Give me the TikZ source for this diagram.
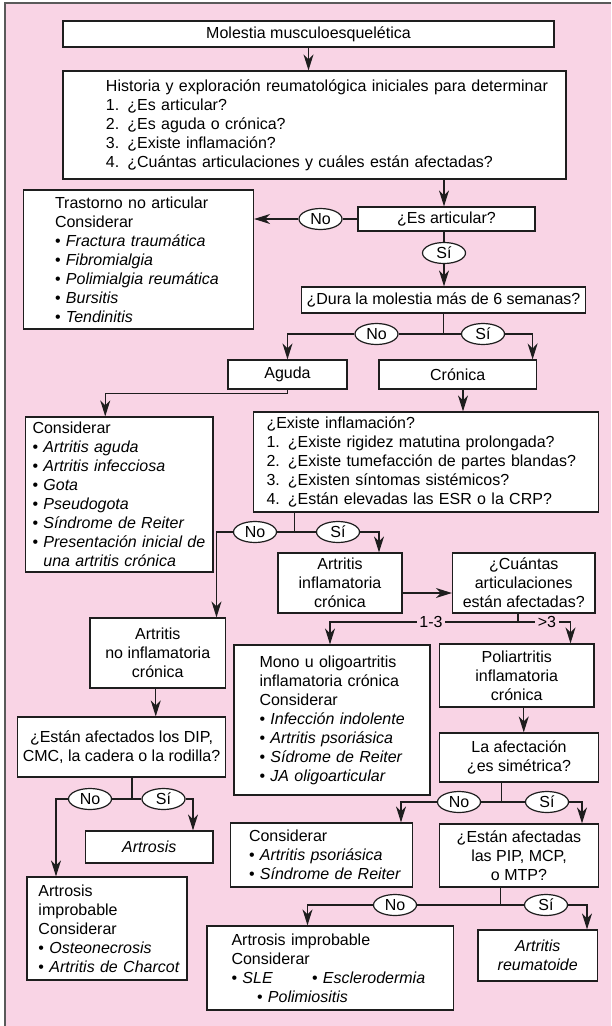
\documentclass[tikz,border=0pt]{standalone}
\usepackage{fontspec}
\setmainfont{Liberation Sans}
\usetikzlibrary{arrows.meta,shapes.geometric}
\definecolor{pinkbg}{RGB}{249,212,229}
\definecolor{ink}{RGB}{30,30,30}
\definecolor{framec}{RGB}{90,90,90}

\begin{document}
\begin{tikzpicture}[x=1pt,y=-1pt,
  font=\fontsize{16}{19}\selectfont,
  box/.style={draw=ink, fill=white, line width=1.2pt, inner sep=0pt},
  cbox/.style 2 args={box, minimum width=#1, minimum height=#2, align=center},
  lbox/.style n args={3}{box, text width=#1, minimum height=#2, align=left,
    execute at begin node={\leftskip=#3\relax}},
  ell/.style={ellipse, draw=ink, fill=white, line width=1.2pt,
    minimum width=43pt, minimum height=21pt, inner sep=0pt},
  link/.style={draw=ink, line width=1.2pt},
  arr/.style={link, -{Stealth[length=16pt,width=10pt,inset=5pt]}},
  lbl/.style={inner sep=2.5pt}
]
\useasboundingbox (0,0) rectangle (611,1026);

% page background and frame
\fill[pinkbg] (5,3) rectangle (611,1026);
\draw[framec, line width=1.6pt] (5,1026) -- (5,3) -- (611,3);

% boxes
\node[cbox={491pt}{26pt}] (m1) at (308.5,34) {Molestia musculoesquelética};
\node[lbox={503pt}{108pt}{43pt}] (hist) at (314.5,125) {Historia y exploración reumatológica iniciales para determinar\\1. ¿Es articular?\\2. ¿Es aguda o crónica?\\3. ¿Existe inflamación?\\4. ¿Cuántas articulaciones y cuáles están afectadas?};
\node[cbox={177pt}{24pt}] (esart) at (446.5,219) {¿Es articular?};
\node[ell] (noA) at (320.5,219) {No};
\node[lbox={230pt}{139pt}{31.5pt}] (trast) at (138.5,259.5) {Trastorno no articular\\Considerar\\• \textit{Fractura traumática}\\• \textit{Fibromialgia}\\• \textit{Polimialgia reumática}\\• \textit{Bursitis}\\• \textit{Tendinitis}};
\node[ell] (siA) at (444,253) {Sí};
\node[cbox={284pt}{26pt}] (dura) at (443.5,300) {¿Dura la molestia más de 6 semanas?};
\node[ell] (noB) at (376.5,334) {No};
\node[ell] (siB) at (483,334) {Sí};
\node[cbox={119pt}{29pt}] (aguda) at (287.5,374.5) {Aguda};
\node[cbox={157.5pt}{29pt}] (cron) at (457.75,374.5) {Crónica};
\node[lbox={187.5pt}{155pt}{7pt}] (cons1) at (119.25,494.5) {Considerar\\• \textit{Artritis aguda}\\• \textit{Artritis infecciosa}\\• \textit{Gota}\\• \textit{Pseudogota}\\• \textit{Síndrome de Reiter}\\• \textit{Presentación inicial de}\\\phantom{• }\textit{una artritis crónica}};
\node[lbox={345pt}{100pt}{13pt}] (infl) at (426,462) {¿Existe inflamación?\\1. ¿Existe rigidez matutina prolongada?\\2. ¿Existe tumefacción de partes blandas?\\3. ¿Existen síntomas sistémicos?\\4. ¿Están elevadas las ESR o la CRP?};
\node[ell] (noC) at (255,532) {No};
\node[ell] (siC) at (338,532) {Sí};
\node[cbox={124pt}{60pt}] (ainfl) at (340,583) {Artritis\\inflamatoria\\crónica};
\node[cbox={142.5pt}{60pt}] (cuant) at (523.75,583) {¿Cuántas\\articulaciones\\están afectadas?};
\node[lbl] (l13) at (431,622) {1-3};
\node[lbl] (gt3) at (547,622) {>3};
\node[cbox={135.5pt}{70pt}] (anoinfl) at (157.75,653) {Artritis\\no inflamatoria\\crónica};
\node[lbox={196pt}{150pt}{25.5pt}] (mono) at (332,720) {Mono u oligoartritis\\inflamatoria crónica\\Considerar\\• \textit{Infección indolente}\\• \textit{Artritis psoriásica}\\• \textit{Sídrome de Reiter}\\• \textit{JA oligoarticular}};
\node[cbox={154.5pt}{63pt}] (poli) at (516.75,675.5) {Poliartritis\\inflamatoria\\crónica};
\node[cbox={208pt}{60pt}] (dip) at (121.5,747) {¿Están afectados los DIP,\\CMC, la cadera o la rodilla?};
\node[cbox={159pt}{49pt}] (afect) at (519,757.5) {La afectación\\¿es simétrica?};
\node[ell] (noD) at (90,799) {No};
\node[ell] (siD) at (163.5,799) {Sí};
\node[ell] (noE) at (459,802) {No};
\node[ell] (siE) at (547,802) {Sí};
\node[cbox={127.5pt}{32pt}] (artro) at (149.25,847) {\textit{Artrosis}};
\node[lbox={182pt}{64pt}{18.5pt}] (cons2) at (321.5,855) {Considerar\\• \textit{Artritis psoriásica}\\• \textit{Síndrome de Reiter}};
\node[cbox={159pt}{63pt}] (pip) at (519,855.5) {¿Están afectadas\\las PIP, MCP,\\o MTP?};
\node[lbox={160pt}{103pt}{11.5pt}] (aimp1) at (107,928.5) {Artrosis\\improbable\\Considerar\\• \textit{Osteonecrosis}\\• \textit{Artritis de Charcot}};
\node[ell] (noF) at (395,905) {No};
\node[ell] (siF) at (546,905) {Sí};
\node[lbox={246.5pt}{84pt}{24.5pt}] (aimp2) at (330.25,968) {Artrosis improbable\\Considerar\\\makebox[80.5pt][l]{• \textit{SLE}}• \textit{Esclerodermia}\\\hspace*{25.5pt}• \textit{Polimiositis}};
\node[cbox={119.5pt}{51pt}] (ar) at (537.75,955.5) {\textit{Artritis}\\\textit{reumatoide}};

% branch points
\coordinate (jB) at (443.5,334);
\coordinate (jC) at (294.5,532);
\coordinate (jD) at (518,622);
\coordinate (jE) at (132,799);
\coordinate (jF) at (501.5,802);
\coordinate (jG) at (500.5,905);

% connectors
\draw[arr] (m1.south) -- (m1.south |- hist.north);
\draw[arr] (hist.south -| siA.north) -- (esart.north -| siA.north);
\draw[link] (esart.west) -- (noA.east);
\draw[arr] (noA.west) -- (noA.west -| trast.east);
\draw[link] (esart.south -| siA.north) -- (siA.north);
\draw[arr] (siA.south) -- (siA.south |- dura.north);

\draw[link] (dura.south) -- (jB);
\draw[link] (noB.east) -- (siB.west);
\draw[arr] (noB.west) -| (aguda.north);
\draw[arr] (siB.east) -| ([xshift=-4.5pt]cron.north east);
\draw[arr] (aguda.south) -- ++(0,4) -| ([xshift=-14pt]cons1.north);
\draw[arr] ([xshift=5.25pt]cron.south) -- ([xshift=5.25pt]cron.south |- infl.north);

\draw[link] (infl.south -| jC) -- (jC);
\draw[link] (noC.east) -- (siC.west);
\draw[arr] (noC.west) -| ([xshift=58.75pt]anoinfl.north);
\draw[arr] (siC.east) -| ([xshift=39pt]ainfl.north);
\draw[arr] ([yshift=-10pt]ainfl.east) -- ([yshift=-10pt]ainfl.east -| cuant.west);

\draw[link] (cuant.south -| jD) -- (jD);
\draw[arr] (l13.west) -| ([xshift=-2pt]mono.north);
\draw[link] (l13.east) -- (gt3.west);
\draw[arr] (gt3.east) -| ([xshift=53.75pt]poli.north);
\draw[arr] ([xshift=-2pt]anoinfl.south) -- ([xshift=-2pt]anoinfl.south |- dip.north);
\draw[arr] ([xshift=7pt]poli.south) -- ([xshift=7pt]poli.south |- afect.north);

\draw[link] (dip.south -| jE) -- (jE);
\draw[link] (noD.east) -- (siD.west);
\draw[arr] (noD.west) -| ([xshift=-51pt]aimp1.north);
\draw[arr] (siD.east) -| ([xshift=43.75pt]artro.north);

\draw[link] (afect.south -| jF) -- (jF);
\draw[link] (noE.east) -- (siE.west);
\draw[arr] (noE.west) -| ([xshift=79.5pt]cons2.north);
\draw[arr] (siE.east) -| ([xshift=63pt]pip.north);

\draw[link] (pip.south -| jG) -- (jG);
\draw[link] (noF.east) -- (siF.west);
\draw[arr] (noF.west) -| ([xshift=-22.75pt]aimp2.north);
\draw[arr] (siF.east) -| ([xshift=49.25pt]ar.north);
\end{tikzpicture}
\end{document}
